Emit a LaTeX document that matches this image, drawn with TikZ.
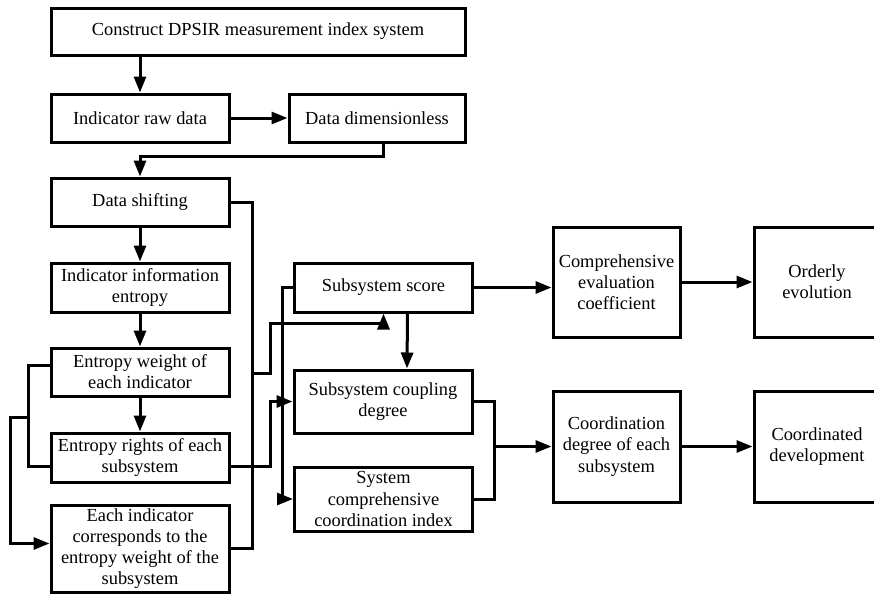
\documentclass[tikz,border=0pt]{standalone}
\usepackage{fontspec}
\setmainfont{Liberation Serif}
\usepackage{tikz}
\usetikzlibrary{positioning, arrows.meta}

\begin{document}
\begin{tikzpicture}[
      x=0.5pt, y=-0.5pt,
      line width=1.5pt,
      box/.style={draw, align=center, inner sep=1pt, font=\fontsize{9.2}{10.6}\selectfont},
      narrow/.style={box, minimum width=89pt, minimum height=24pt},
      tall/.style={box, minimum width=63.5pt, minimum height=55pt},
      arr/.style={-{Triangle[length=8pt, width=6pt]}}
    ]
    \useasboundingbox (0,0) rectangle (874,595);
    \clip (0,0) rectangle (874,595);

    % left column
    \node[box, minimum width=207pt, minimum height=23.5pt] (idx) at (258,31.5) {Construct DPSIR measurement index system};
    \node[narrow] (raw) at (140,118) {Indicator raw data};
    \node[narrow, minimum width=88pt] (dimless) at (377,118) {Data dimensionless};
    \node[narrow] (shift) at (140,202) {Data shifting};
    \node[narrow, minimum height=24.5pt] (info) at (140,287.5) {Indicator information\\entropy};
    \node[narrow] (weight) at (140,372) {Entropy weight of\\each indicator};
    \node[narrow, minimum height=24.5pt] (rights) at (140,457.5) {Entropy rights of each\\subsystem};
    \node[narrow, minimum height=43.5pt] (each) at (140,548.5) {Each indicator\\corresponds to the\\entropy weight of the\\subsystem};

    % middle column
    \node[narrow, minimum height=24.5pt] (score) at (383.5,287.5) {Subsystem score};
    \node[narrow, minimum height=31.5pt] (coupling) at (383,401.5) {Subsystem coupling\\degree};
    \node[narrow, minimum height=32pt] (syscomp) at (383.5,499) {System\\comprehensive\\coordination index};

    % right columns
    \node[tall] (evalcoef) at (616.5,282) {Comprehensive\\evaluation\\coefficient};
    \node[tall, minimum width=63pt] (orderly) at (817,282) {Orderly\\evolution};
    \node[tall, minimum height=55.5pt] (coord) at (616.5,446.5) {Coordination\\degree of each\\subsystem};
    \node[tall, minimum width=63pt, minimum height=55.5pt] (coordev) at (817,446.5) {Coordinated\\development};

    \coordinate (busA) at (252,373);
    \coordinate (busB) at (270,323);
    \coordinate (busC) at (282,287.5);
    \coordinate (busD) at (270,401.5);
    \coordinate (busE) at (494,446.5);
    \coordinate (busF) at (28,417);
    \coordinate (busG) at (10,417);

    \draw[arr] (raw.north |- idx.south) -- (raw.north);
    \draw[arr] (raw) -- (dimless);
    \draw[arr] ([xshift=3pt]dimless.south) -- ++(0,13) -| (shift.north);
    \draw[arr] (shift) -- (info);
    \draw[arr] (info) -- (weight);
    \draw[arr] (weight) -- (rights);

    \draw (shift.east) -| (busA);
    \draw (each.east) -| (busA);
    \draw[arr] (busA) -| (busB) -| (score.south);

    \draw[arr] (score.west) -- (busC) |- (syscomp.west);
    \draw[arr] ([yshift=-4.5pt]rights.east) -| (busD) -- (coupling.west);
    \draw[arr] ([xshift=12pt]score.south) -- ([xshift=12pt]coupling.north);

    \draw (coupling.east) -| (busE);
    \draw (syscomp.east) -| (busE);
    \draw[arr] (busE) -- (coord.west);
    \draw[arr] (score.east) -- (score.east -| evalcoef.west);
    \draw[arr] (evalcoef) -- (orderly);
    \draw[arr] (coord) -- (coordev);

    \draw ([yshift=3.5pt]weight.west) -| (busF) |- ([yshift=-4.5pt]rights.west);
    \draw[arr] (busF) -- (busG) |- ([yshift=2.5pt]each.west);
  \end{tikzpicture}
\end{document}
